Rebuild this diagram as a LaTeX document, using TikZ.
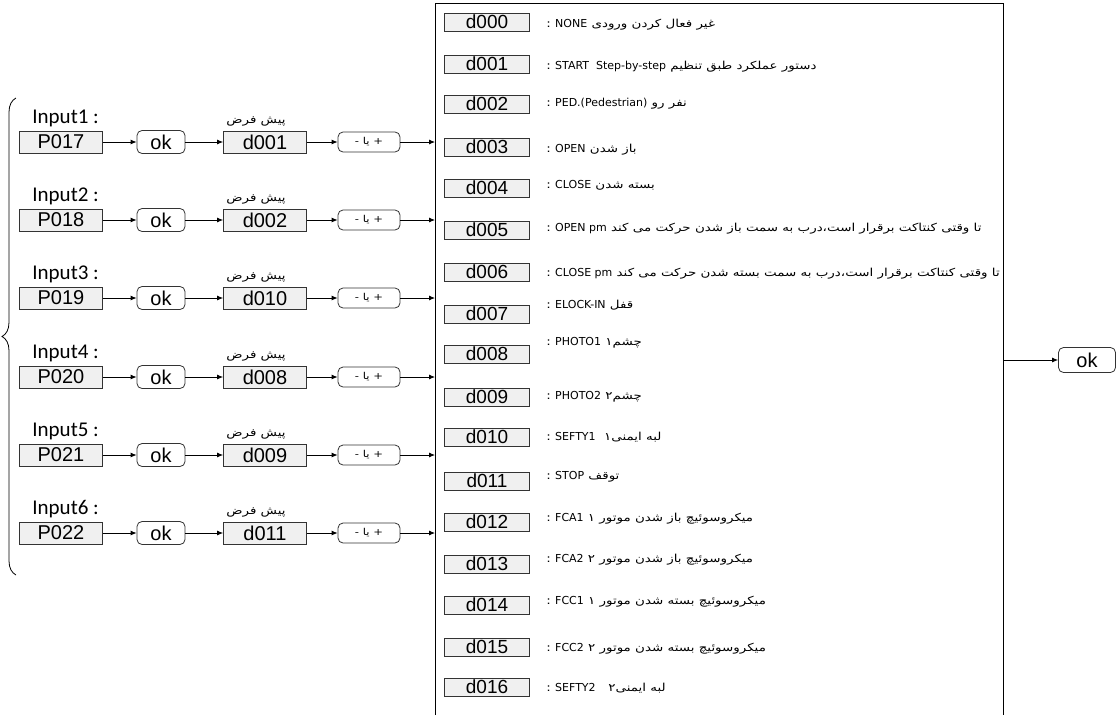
\documentclass[tikz,border=0pt]{standalone}
\usepackage{fontspec}
\setmainfont{Liberation Sans}
\newfontfamily\arabicfont[Script=Arabic,FakeStretch=1.22]{DejaVu Sans}
\newfontfamily\latinfont{DejaVu Sans}
\newfontfamily\inputfont{Carlito}
\newcommand{\entxt}[1]{{\latinfont\fontsize{11}{11}\selectfont #1}}
\TeXXeTstate=1
\usetikzlibrary{arrows,%
		arrows.meta,%
		decorations.pathreplacing,%
		positioning}

\begin{document}
\begin{tikzpicture}[x=1pt,y=-1pt,line width=0.8pt,
	pbox/.style={draw=black!80,fill=black!6,minimum width=83pt,minimum height=22pt,inner sep=0pt,font=\fontsize{20}{20}\selectfont},
	okbox/.style={draw=black!80,rounded corners=5pt,minimum width=48pt,minimum height=23pt,inner sep=0pt,font=\fontsize{20}{20}\selectfont},
	selbox/.style={draw=black!80,rounded corners=5pt,minimum width=62pt,minimum height=20pt,inner sep=0pt,font=\arabicfont\fontsize{9.5}{9.5}\selectfont},
	dbox/.style={draw=black!80,fill=black!6,minimum width=85pt,minimum height=18pt,inner sep=0pt,font=\fontsize{19}{19}\selectfont},
	desc/.style={anchor=base west,inner sep=0pt,font=\arabicfont\fontsize{11}{11}\selectfont},
	inlabel/.style={anchor=base west,inner sep=0pt,font=\inputfont\fontsize{21}{21}\selectfont},
	deflabel/.style={anchor=base,inner sep=0pt,font=\arabicfont\fontsize{11}{11}\selectfont},
	flow/.style={-{Latex[length=6pt,width=5pt]}}]
\useasboundingbox (0,0) rectangle (1119,715);

%Ingressi
\node[inlabel] (in1) at (32,123) {Input1 :};
\node[pbox] (p1) at (61,142) {P017};
\node[okbox] (ok1) at (161,142) {ok};
\node[deflabel] (def1) at (256,123) {\beginR پیش فرض\endR};
\node[pbox] (d1) at (265,142) {d001};
\node[selbox] (s1) at (369,142) {\beginR + یا -\endR};
\coordinate (e1) at (435,142);

\node[inlabel] (in2) at (32,201) {Input2 :};
\node[pbox] (p2) at (61,220) {P018};
\node[okbox] (ok2) at (161,220) {ok};
\node[deflabel] (def2) at (256,201) {\beginR پیش فرض\endR};
\node[pbox] (d2) at (265,220) {d002};
\node[selbox] (s2) at (369,220) {\beginR + یا -\endR};
\coordinate (e2) at (435,220);

\node[inlabel] (in3) at (32,279) {Input3 :};
\node[pbox] (p3) at (61,298) {P019};
\node[okbox] (ok3) at (161,298) {ok};
\node[deflabel] (def3) at (256,279) {\beginR پیش فرض\endR};
\node[pbox] (d3) at (265,298) {d010};
\node[selbox] (s3) at (369,298) {\beginR + یا -\endR};
\coordinate (e3) at (435,298);

\node[inlabel] (in4) at (32,358) {Input4 :};
\node[pbox] (p4) at (61,377) {P020};
\node[okbox] (ok4) at (161,377) {ok};
\node[deflabel] (def4) at (256,358) {\beginR پیش فرض\endR};
\node[pbox] (d4) at (265,377) {d008};
\node[selbox] (s4) at (369,377) {\beginR + یا -\endR};
\coordinate (e4) at (435,377);

\node[inlabel] (in5) at (32,436) {Input5 :};
\node[pbox] (p5) at (61,455) {P021};
\node[okbox] (ok5) at (161,455) {ok};
\node[deflabel] (def5) at (256,436) {\beginR پیش فرض\endR};
\node[pbox] (d5) at (265,455) {d009};
\node[selbox] (s5) at (369,455) {\beginR + یا -\endR};
\coordinate (e5) at (435,455);

\node[inlabel] (in6) at (32,514) {Input6 :};
\node[pbox] (p6) at (61,533) {P022};
\node[okbox] (ok6) at (161,533) {ok};
\node[deflabel] (def6) at (256,514) {\beginR پیش فرض\endR};
\node[pbox] (d6) at (265,533) {d011};
\node[selbox] (s6) at (369,533) {\beginR + یا -\endR};
\coordinate (e6) at (435,533);

\draw[flow] (p1) -- (ok1);
\draw[flow] (ok1) -- (d1);
\draw[flow] (d1) -- (s1);
\draw[flow] (s1) -- (e1);
\draw[flow] (p2) -- (ok2);
\draw[flow] (ok2) -- (d2);
\draw[flow] (d2) -- (s2);
\draw[flow] (s2) -- (e2);
\draw[flow] (p3) -- (ok3);
\draw[flow] (ok3) -- (d3);
\draw[flow] (d3) -- (s3);
\draw[flow] (s3) -- (e3);
\draw[flow] (p4) -- (ok4);
\draw[flow] (ok4) -- (d4);
\draw[flow] (d4) -- (s4);
\draw[flow] (s4) -- (e4);
\draw[flow] (p5) -- (ok5);
\draw[flow] (ok5) -- (d5);
\draw[flow] (d5) -- (s5);
\draw[flow] (s5) -- (e5);
\draw[flow] (p6) -- (ok6);
\draw[flow] (ok6) -- (d6);
\draw[flow] (d6) -- (s6);
\draw[flow] (s6) -- (e6);

%graffa
\coordinate (bt) at (16,98);
\coordinate (bb) at (16,575);
\draw[decorate,decoration={brace,amplitude=14pt}] (bb) -- (bt);

%riquadro delle funzioni
\draw (435,715) -- (435,3) -- (1003,3) -- (1003,715);

\node[dbox] (l0) at (487,22) {d000};
\node[dbox] (l1) at (487,64) {d001};
\node[dbox] (l2) at (487,104) {d002};
\node[dbox] (l3) at (487,147) {d003};
\node[dbox] (l4) at (487,188) {d004};
\node[dbox] (l5) at (487,230) {d005};
\node[dbox] (l6) at (487,272) {d006};
\node[dbox] (l7) at (487,314) {d007};
\node[dbox] (l8) at (487,354) {d008};
\node[dbox] (l9) at (487,397) {d009};
\node[dbox] (l10) at (487,437) {d010};
\node[dbox] (l11) at (487,481) {d011};
\node[dbox] (l12) at (487,522) {d012};
\node[dbox] (l13) at (487,564) {d013};
\node[dbox] (l14) at (487,605) {d014};
\node[dbox] (l15) at (487,647) {d015};
\node[dbox] (l16) at (487,687) {d016};

\node[desc] (t0) at (546,27) {\beginR غیر فعال کردن ورودی \entxt{NONE} :\endR};
\node[desc] (t1) at (546,69) {\beginR دستور عملکرد طبق تنظیم \beginL\entxt{START\ \ Step-by-step}\endL{} :\endR};
\node[desc] (t2) at (546,106) {\beginR نفر رو \beginL\entxt{PED.(Pedestrian)}\endL{} :\endR};
\node[desc] (t3) at (546,152) {\beginR باز شدن \entxt{OPEN} :\endR};
\node[desc] (t4) at (546,188) {\beginR بسته شدن \entxt{CLOSE} :\endR};
\node[desc] (t5) at (546,231) {\beginR تا وقتی کنتاکت برقرار است،درب به سمت باز شدن حرکت می کند \beginL\entxt{OPEN pm}\endL{} :\endR};
\node[desc] (t6) at (546,276) {\beginR تا وقتی کنتاکت برقرار است،درب به سمت بسته شدن حرکت می کند \beginL\entxt{CLOSE pm}\endL{} :\endR};
\node[desc] (t7) at (546,308) {\beginR قفل \entxt{ELOCK-IN} :\endR};
\node[desc] (t8) at (546,345) {\beginR چشم۱ \entxt{PHOTO1} :\endR};
\node[desc] (t9) at (546,399) {\beginR چشم۲ \entxt{PHOTO2} :\endR};
\node[desc] (t10) at (546,440) {\beginR لبه ایمنی۱\ \ \entxt{SEFTY1} :\endR};
\node[desc] (t11) at (546,479) {\beginR توقف \entxt{STOP} :\endR};
\node[desc] (t12) at (546,521) {\beginR میکروسوئیچ باز شدن موتور ۱ \entxt{FCA1} :\endR};
\node[desc] (t13) at (546,562) {\beginR میکروسوئیچ باز شدن موتور ۲ \entxt{FCA2} :\endR};
\node[desc] (t14) at (546,604) {\beginR میکروسوئیچ بسته شدن موتور ۱ \entxt{FCC1} :\endR};
\node[desc] (t15) at (546,651) {\beginR میکروسوئیچ بسته شدن موتور ۲ \entxt{FCC2} :\endR};
\node[desc] (t16) at (546,691) {\beginR لبه ایمنی۲\ \ \ \entxt{SEFTY2} :\endR};

%uscita
\coordinate (r) at (1003,360);
\node[okbox,minimum width=57pt,minimum height=25pt] (okr) at (1087,360) {ok};
\draw[flow] (r) -- (okr);
\end{tikzpicture}
\end{document}
